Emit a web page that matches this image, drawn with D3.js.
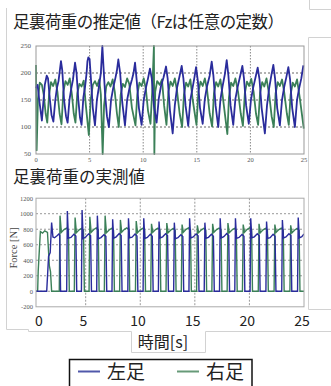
<!DOCTYPE html>
<html><head><meta charset="utf-8">
<script src="https://cdn.jsdelivr.net/npm/d3@7/dist/d3.min.js"></script>
<style>html,body{margin:0;padding:0;background:#fff;}svg{display:block;}</style>
</head><body>
<svg id="c" width="331" height="386"></svg>
<script>
// ---------- DATA ----------
const titleTop = "足裏荷重の推定値（Fzは任意の定数）";
const titleBottom = "足裏荷重の実測値";
const xLabel = "時間[s]";
const yLabelBottom = "Force [N]";
const seriesNames = ["左足", "右足"];
const xTicks = [0, 5, 10, 15, 20, 25];
const yTicksTop = [50, 100, 150, 200, 250];
const yTicksBottom = [-200, 0, 200, 400, 600, 800, 1000, 1200];

// estimated load (top), left foot [time s, value]
const estLeft = [
[0.00,172],[0.15,178],[0.30,150],[0.55,112],[0.70,150],[0.82,178],[1.00,195],[1.12,190],[1.30,150],[1.45,122],
[1.62,110],[1.80,150],[1.95,172],[2.10,185],[2.33,222],[2.45,205],[2.62,150],[2.80,120],[2.95,108],[3.12,150],
[3.28,170],[3.45,188],[3.64,219],[3.78,200],[3.95,150],[4.10,118],[4.25,104],[4.42,155],[4.58,175],[4.72,200],
[4.80,222],[4.88,229],[5.00,226],[5.12,190],[5.30,135],[5.50,103],[5.68,150],[5.85,172],[6.05,200],[6.19,250],
[6.30,210],[6.45,160],[6.62,120],[6.80,100],[7.00,150],[7.20,172],[7.42,192],[7.55,205],[7.68,225],[7.85,200],
[8.05,145],[8.30,103],[8.50,150],[8.70,170],[8.95,188],[9.10,200],[9.24,219],[9.40,185],[9.60,135],[9.85,104],
[10.05,150],[10.25,172],[10.45,190],[10.63,208],[10.80,190],[11.00,140],[11.25,108],[11.45,152],[11.65,175],[11.90,192],
[12.13,212],[12.28,190],[12.50,130],[12.75,88],[12.95,140],[13.15,172],[13.40,195],[13.59,213],[13.75,190],[13.95,140],
[14.20,102],[14.40,150],[14.60,172],[14.78,192],[14.93,211],[15.10,185],[15.30,135],[15.55,106],[15.75,152],[15.95,175],
[16.20,195],[16.39,221],[16.55,195],[16.75,140],[17.00,100],[17.20,150],[17.40,175],[17.62,198],[17.79,224],[17.95,195],
[18.15,140],[18.40,104],[18.60,152],[18.82,175],[19.05,195],[19.25,213],[19.40,190],[19.60,140],[19.85,106],[20.05,150],
[20.25,172],[20.48,192],[20.68,210],[20.85,188],[21.05,135],[21.35,88],[21.55,140],[21.75,172],[21.95,195],[22.14,215],
[22.30,190],[22.50,135],[22.75,103],[22.95,150],[23.15,174],[23.35,192],[23.54,211],[23.70,188],[23.90,135],[24.15,100],
[24.35,150],[24.55,172],[24.75,190],[24.94,214]
];
// estimated load (top), right foot
const estRight = [
[0.00,215],[0.06,57],[0.18,150],[0.35,182],[0.55,178],[0.72,160],[0.90,125],[1.05,108],[1.22,160],[1.40,183],
[1.60,176],[1.80,188],[2.00,165],[2.20,125],[2.38,105],[2.55,165],[2.75,185],[2.95,178],[3.15,190],[3.35,160],
[3.52,125],[3.68,108],[3.85,162],[4.05,180],[4.25,175],[4.45,186],[4.65,140],[4.93,85],[5.10,150],[5.30,178],
[5.50,185],[5.70,176],[5.90,188],[6.05,160],[6.22,50],[6.35,140],[6.55,175],[6.75,183],[6.95,175],[7.15,188],
[7.35,165],[7.55,125],[7.72,100],[7.90,160],[8.10,180],[8.30,174],[8.50,190],[8.70,180],[8.95,135],[9.28,103],
[9.45,160],[9.65,182],[9.85,176],[10.05,190],[10.25,170],[10.45,130],[10.68,106],[10.85,170],[11.00,250],[11.04,50],
[11.12,165],[11.30,185],[11.55,178],[11.75,188],[11.95,140],[12.17,104],[12.35,165],[12.55,184],[12.75,176],[12.95,190],
[13.15,168],[13.40,125],[13.63,100],[13.80,160],[14.00,182],[14.20,175],[14.40,188],[14.62,150],[14.97,104],[15.15,165],
[15.35,184],[15.55,176],[15.75,190],[15.95,170],[16.20,125],[16.43,101],[16.60,162],[16.80,183],[17.00,175],[17.20,188],
[17.40,160],[17.85,87],[18.00,155],[18.20,182],[18.40,176],[18.60,190],[18.85,165],[19.10,125],[19.30,102],[19.48,162],
[19.68,184],[19.88,176],[20.08,189],[20.30,165],[20.52,125],[20.72,104],[20.90,163],[21.10,183],[21.30,175],[21.50,190],
[21.75,160],[21.98,120],[22.18,100],[22.35,162],[22.55,183],[22.75,176],[22.95,188],[23.15,165],[23.40,125],[23.58,104],
[23.75,160],[23.95,182],[24.15,175],[24.35,188],[24.60,155],[24.98,97]
];
// measured force (bottom), left foot [time s, N]
const forceLeft = [
[0.45,0],[1.43,0],[1.60,450],[1.75,500],[1.88,885],[2.00,700],[2.15,690],[2.40,720],[2.55,740],[2.62,720],[2.70,0],
[3.26,0],[3.32,1035],[3.42,685],[3.65,695],[3.92,735],[4.10,712],[4.18,0],
[4.61,0],[4.67,1047],[4.77,680],[5.00,700],[5.27,740],[5.45,718],[5.53,0],
[6.01,0],[6.07,975],[6.17,678],[6.40,692],[6.67,730],[6.85,708],[6.93,0],
[7.41,0],[7.47,928],[7.57,686],[7.80,702],[8.07,745],[8.25,720],[8.33,0],
[8.86,0],[8.92,940],[9.02,690],[9.25,698],[9.52,738],[9.70,712],[9.78,0],
[10.26,0],[10.32,940],[10.42,682],[10.65,695],[10.92,735],[11.10,710],[11.18,0],
[11.66,0],[11.72,898],[11.82,688],[12.05,702],[12.32,742],[12.50,718],[12.58,0],
[13.06,0],[13.12,885],[13.22,678],[13.45,690],[13.72,730],[13.90,706],[13.98,0],
[14.46,0],[14.52,940],[14.62,688],[14.85,700],[15.12,740],[15.30,715],[15.38,0],
[15.86,0],[15.92,885],[16.02,684],[16.25,696],[16.52,735],[16.70,710],[16.78,0],
[17.26,0],[17.32,940],[17.42,688],[17.65,704],[17.92,745],[18.10,720],[18.18,0],
[18.66,0],[18.72,940],[18.82,682],[19.05,694],[19.32,732],[19.50,708],[19.58,0],
[20.06,0],[20.12,940],[20.22,690],[20.45,702],[20.72,742],[20.90,716],[20.98,0],
[21.51,0],[21.57,898],[21.67,682],[21.90,692],[22.17,735],[22.35,710],[22.43,0],
[22.96,0],[23.02,920],[23.12,688],[23.35,700],[23.62,742],[23.80,718],[23.88,0],
[24.41,0],[24.47,950],[24.57,688],[24.80,705],[25.00,740]
];
// measured force (bottom), right foot
const forceRight = [
[0.45,0],[0.60,0],[0.65,260],[0.85,770],[1.05,750],[1.25,780],[1.50,760],[1.67,330],[1.78,250],[1.88,0],
[2.58,0],[2.65,975],[2.77,760],[3.02,795],[3.24,815],[3.42,790],[3.50,0],
[3.96,0],[4.03,950],[4.15,755],[4.40,792],[4.62,812],[4.80,788],[4.88,0],
[5.31,0],[5.38,960],[5.50,760],[5.75,796],[5.97,818],[6.15,792],[6.23,0],
[6.71,0],[6.78,975],[6.90,755],[7.15,790],[7.37,810],[7.55,786],[7.63,0],
[8.11,0],[8.18,920],[8.30,762],[8.55,798],[8.77,818],[8.95,792],[9.03,0],
[9.56,0],[9.63,905],[9.75,756],[10.00,792],[10.22,812],[10.40,788],[10.48,0],
[10.96,0],[11.03,870],[11.15,760],[11.40,796],[11.62,815],[11.80,790],[11.88,0],
[12.36,0],[12.43,880],[12.55,755],[12.80,790],[13.02,810],[13.20,786],[13.28,0],
[13.76,0],[13.83,860],[13.95,762],[14.20,798],[14.42,818],[14.60,792],[14.68,0],
[15.16,0],[15.23,850],[15.35,756],[15.60,792],[15.82,812],[16.00,788],[16.08,0],
[16.56,0],[16.63,870],[16.75,760],[17.00,796],[17.22,815],[17.40,790],[17.48,0],
[17.96,0],[18.03,880],[18.15,755],[18.40,790],[18.62,810],[18.80,786],[18.88,0],
[19.36,0],[19.43,860],[19.55,762],[19.80,798],[20.02,818],[20.20,792],[20.28,0],
[20.81,0],[20.88,870],[21.00,756],[21.25,792],[21.47,812],[21.65,788],[21.73,0],
[22.26,0],[22.33,860],[22.45,760],[22.70,796],[22.92,815],[23.10,790],[23.18,0],
[23.71,0],[23.78,850],[23.90,755],[24.15,790],[24.37,810],[24.55,786],[24.63,0],[25.00,0]
];

// ---------- DRAW ----------
const svg = d3.select("#c");
const blue = "#2a2c9c", green = "#3b8058";
const frame = "#d2d2d2";
const serif = "'Liberation Serif','DejaVu Serif',serif";
const jp = "'Noto Sans CJK JP','Noto Sans',sans-serif";

// slide frame lines
const fr = svg.append("g").attr("stroke", frame).attr("fill", "none").attr("stroke-width", 1);
fr.append("path").attr("d", "M6.5,8 V329.5 H28.5 V331.5 H131.5 V352.5 H205.5 V331.5 H331");
fr.append("path").attr("d", "M309.5,0 V9.5 H331");
fr.append("path").attr("d", "M331,37.5 H308.5 V309.5 H331");

// titles
svg.append("text").attr("x", 13).attr("y", 28).attr("font-family", jp).attr("font-size", 16.5)
  .attr("textLength", 271).attr("lengthAdjust", "spacing")
  .attr("fill", "#222").text(titleTop);
svg.append("text").attr("x", 13).attr("y", 182.5).attr("font-family", jp).attr("font-size", 16.5)
  .attr("fill", "#222").text(titleBottom);

// ----- top chart -----
const tx = d3.scaleLinear().domain([0, 25]).range([36, 304]);
const ty = d3.scaleLinear().domain([50, 250]).range([154, 46]);
const gT = svg.append("g");
gT.append("g").selectAll("line").data(yTicksTop.filter(v => v > 50 && v < 250)).join("line")
  .attr("x1", 36).attr("x2", 304).attr("y1", d => ty(d)).attr("y2", d => ty(d))
  .attr("stroke", "#666").attr("stroke-dasharray", "2,2");
gT.append("g").selectAll("line").data(xTicks.filter(v => v > 0 && v < 25)).join("line")
  .attr("x1", d => tx(d)).attr("x2", d => tx(d)).attr("y1", 46).attr("y2", 154)
  .attr("stroke", "#888").attr("stroke-dasharray", "1.5,1.5");
const lineT = d3.line().x(d => tx(d[0])).y(d => ty(d[1]));
gT.append("path").datum(estRight).attr("d", lineT).attr("fill", "none").attr("stroke", green).attr("stroke-width", 1.8).attr("stroke-linejoin", "round");
gT.append("path").datum(estLeft).attr("d", lineT).attr("fill", "none").attr("stroke", blue).attr("stroke-width", 1.8).attr("stroke-linejoin", "round");
gT.append("rect").attr("x", 36).attr("y", 46).attr("width", 268).attr("height", 108)
  .attr("fill", "none").attr("stroke", "#999");
gT.append("g").selectAll("text").data(yTicksTop).join("text")
  .attr("x", 31).attr("y", d => ty(d) + 2.3).attr("text-anchor", "end")
  .attr("font-family", serif).attr("font-size", 7).attr("fill", "#555").text(d => d);
gT.append("g").selectAll("text").data(xTicks).join("text")
  .attr("x", d => tx(d)).attr("y", 162).attr("text-anchor", "middle")
  .attr("font-family", serif).attr("font-size", 6.5).attr("fill", "#555").text(d => d);

// ----- bottom chart -----
const bx = d3.scaleLinear().domain([0, 25]).range([31.1, 304]);
const by = d3.scaleLinear().domain([-200, 1200]).range([306.8, 198.2]);
const gB = svg.append("g");
svg.append("defs").append("clipPath").attr("id", "clipB").append("rect")
  .attr("x", 36).attr("y", 198).attr("width", 268).attr("height", 109);
gB.append("g").selectAll("line").data(yTicksBottom.filter(v => v > -200 && v < 1200)).join("line")
  .attr("x1", 36).attr("x2", 304).attr("y1", d => by(d)).attr("y2", d => by(d))
  .attr("stroke", "#999").attr("stroke-dasharray", "2,2");
gB.append("g").selectAll("line").data(xTicks.filter(v => v > 0 && v < 25)).join("line")
  .attr("x1", d => bx(d)).attr("x2", d => bx(d)).attr("y1", 198.2).attr("y2", 306.8)
  .attr("stroke", "#999").attr("stroke-dasharray", "2,1.5");
const lineB = d3.line().x(d => bx(d[0])).y(d => by(d[1]));
const gL = gB.append("g").attr("clip-path", "url(#clipB)");
gL.append("path").datum(forceRight).attr("d", lineB).attr("fill", "none").attr("stroke", green).attr("stroke-width", 1.4);
gL.append("path").datum(forceLeft).attr("d", lineB).attr("fill", "none").attr("stroke", blue).attr("stroke-width", 1.4);
gB.append("rect").attr("x", 36).attr("y", 198.2).attr("width", 268).attr("height", 108.6)
  .attr("fill", "none").attr("stroke", "#aaa");
gB.append("g").selectAll("text").data(yTicksBottom).join("text")
  .attr("x", 33).attr("y", d => by(d) + 2.3).attr("text-anchor", "end")
  .attr("font-family", serif).attr("font-size", 6.5).attr("fill", "#555").text(d => d);
svg.append("text").attr("transform", "translate(16.5,248) rotate(-90)").attr("text-anchor", "middle")
  .attr("font-family", serif).attr("font-size", 10.5).attr("fill", "#444").text(yLabelBottom);

// big time axis labels
const bigX = d3.scaleLinear().domain([0, 5, 25]).range([39, 83.5, 302]);
svg.append("g").selectAll("text").data(xTicks).join("text")
  .attr("x", d => bigX(d)).attr("y", 326).attr("text-anchor", "middle")
  .attr("font-family", jp).attr("font-size", 14).attr("fill", "#222").text(d => d);
svg.append("text").attr("x", 163).attr("y", 348).attr("text-anchor", "middle")
  .attr("font-family", jp).attr("font-size", 16).attr("fill", "#222").text(xLabel);

// legend
const lg = svg.append("g");
lg.append("rect").attr("x", 69.5).attr("y", 359.5).attr("width", 182.5).attr("height", 40)
  .attr("fill", "#fff").attr("stroke", "#111").attr("stroke-width", 1.5);
const legendColors = ["#5058aa", "#679a78"];
const lgX = d3.scalePoint().domain(seriesNames).range([78, 177]);
lg.selectAll("line").data(seriesNames).join("line")
  .attr("x1", d => lgX(d)).attr("x2", d => lgX(d) + 22).attr("y1", 371.5).attr("y2", 371.5)
  .attr("stroke", (d, i) => legendColors[i]).attr("stroke-width", 2);
lg.selectAll("text").data(seriesNames).join("text")
  .attr("x", d => lgX(d) + 29).attr("y", 379).attr("font-family", jp).attr("font-size", 19)
  .attr("fill", "#222").text(d => d);
</script>
</body></html>
